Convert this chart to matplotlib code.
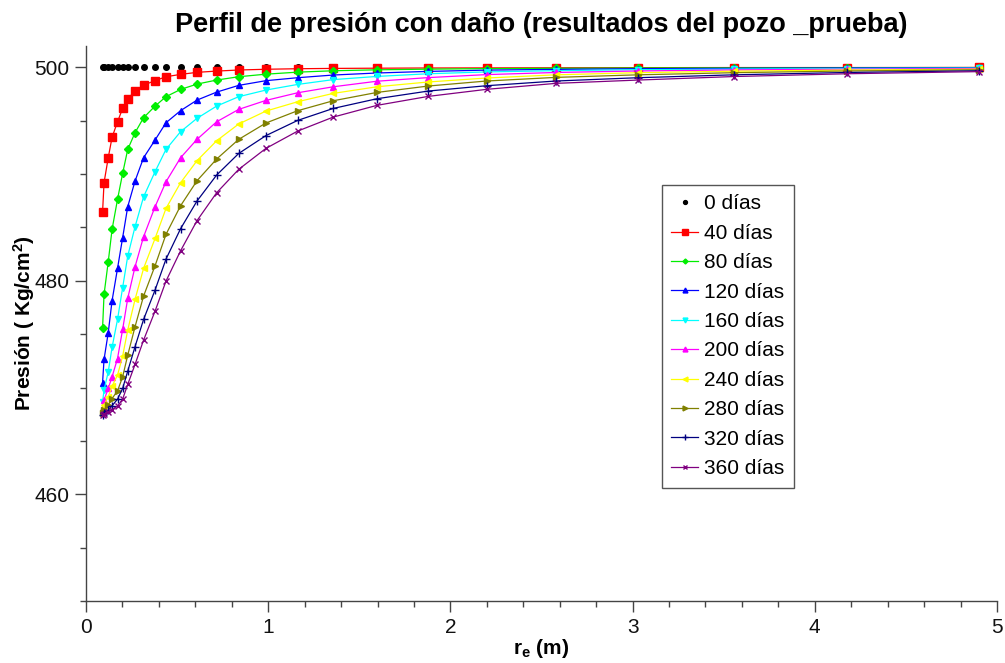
import matplotlib
matplotlib.use("Agg")
import matplotlib.pyplot as plt
from matplotlib.ticker import MultipleLocator

plt.rcParams["font.family"] = ["Liberation Sans", "DejaVu Sans"]
plt.rcParams["mathtext.fontset"] = "custom"
plt.rcParams["mathtext.rm"] = "Liberation Sans"
plt.rcParams["mathtext.it"] = "Liberation Sans:italic"
plt.rcParams["mathtext.bf"] = "Liberation Sans:bold"

# Radial distance from the well (m)
radius = [0.091, 0.099, 0.122, 0.143, 0.173, 0.201, 0.229, 0.269, 0.316, 0.379,
          0.439, 0.519, 0.609, 0.717, 0.838, 0.987, 1.162, 1.357, 1.597, 1.879,
          2.199, 2.580, 3.031, 3.558, 4.179, 4.901]

# Pressure (Kg/cm2) for each elapsed time
p_0 = [500.0] * 26
p_40 = [486.47, 489.19, 491.53, 493.44, 494.90, 496.15, 497.00, 497.81, 498.34, 498.75,
        499.12, 499.34, 499.53, 499.65, 499.75, 499.82, 499.87, 499.90, 499.92, 499.94,
        499.95, 499.96, 499.97, 499.98, 499.98, 499.99]
p_80 = [475.60, 478.72, 481.78, 484.81, 487.63, 490.06, 492.31, 493.87, 495.28, 496.37,
        497.25, 497.93, 498.43, 498.81, 499.12, 499.36, 499.55, 499.68, 499.77, 499.83,
        499.88, 499.91, 499.94, 499.95, 499.97, 499.98]
p_120 = [470.47, 472.63, 475.13, 478.13, 481.16, 484.03, 486.94, 489.34, 491.53, 493.19,
         494.81, 495.94, 496.93, 497.68, 498.31, 498.75, 499.03, 499.28, 499.47, 499.62,
         499.74, 499.81, 499.87, 499.91, 499.94, 499.96]
p_160 = [468.66, 469.76, 471.47, 473.76, 476.38, 479.35, 482.31, 485.06, 487.87, 490.22,
         492.31, 493.97, 495.22, 496.37, 497.25, 497.87, 498.40, 498.85, 499.15, 499.40,
         499.57, 499.69, 499.78, 499.84, 499.89, 499.93]
p_200 = [468.04, 468.82, 469.91, 471.00, 472.72, 475.44, 478.35, 481.31, 484.13, 486.94,
         489.28, 491.53, 493.25, 494.90, 496.06, 496.90, 497.62, 498.18, 498.70, 499.04,
         499.32, 499.52, 499.66, 499.76, 499.83, 499.89]
p_240 = [467.82, 468.35, 469.13, 470.13, 471.16, 472.94, 475.38, 478.25, 481.16, 483.97,
         486.78, 489.19, 491.25, 493.12, 494.69, 495.90, 496.78, 497.56, 498.18, 498.63,
         499.00, 499.30, 499.50, 499.64, 499.75, 499.83]
p_280 = [467.57, 467.88, 468.35, 468.97, 469.69, 471.00, 473.03, 475.69, 478.57, 481.41,
         484.35, 487.03, 489.37, 491.41, 493.25, 494.78, 495.94, 496.87, 497.65, 498.25,
         498.72, 499.06, 499.30, 499.50, 499.66, 499.77]
p_320 = [467.47, 467.63, 467.88, 468.29, 468.91, 469.91, 471.54, 473.82, 476.38, 479.13,
         482.03, 484.88, 487.47, 489.91, 491.93, 493.60, 495.03, 496.15, 497.06, 497.78,
         498.28, 498.72, 499.03, 499.30, 499.52, 499.68]
p_360 = [467.41, 467.50, 467.73, 467.94, 468.26, 468.91, 470.29, 472.16, 474.44, 477.16,
         479.97, 482.81, 485.63, 488.25, 490.44, 492.40, 494.03, 495.34, 496.44, 497.28,
         497.94, 498.50, 498.81, 499.14, 499.40, 499.60]

labels = ["0 días", "40 días", "80 días", "120 días", "160 días",
          "200 días", "240 días", "280 días", "320 días", "360 días"]
series = [p_0, p_40, p_80, p_120, p_160, p_200, p_240, p_280, p_320, p_360]

styles = [
    dict(color="#000000", marker="o", ms=4.0, ls="none"),
    dict(color="#ff0000", marker="s", ms=5.5),
    dict(color="#00ee00", marker="D", ms=3.6),
    dict(color="#0000ff", marker="^", ms=5.0),
    dict(color="#00ffff", marker="v", ms=5.0),
    dict(color="#ff00ff", marker="^", ms=5.0),
    dict(color="#ffff00", marker="<", ms=5.0),
    dict(color="#808000", marker=">", ms=5.0),
    dict(color="#000080", marker="+", ms=6.0, mew=1.0),
    dict(color="#800080", marker="x", ms=5.0, mew=1.0),
]

fig = plt.figure(figsize=(10.05, 6.63), dpi=100)
ax = fig.add_axes([86 / 1005, 1 - 601 / 663, (997 - 86) / 1005, (601 - 46) / 663])

for y, lab, st in zip(series, labels, styles):
    st = dict(st)
    ls = st.pop("ls", "-")
    ax.plot(radius, y, ls=ls, lw=0.9, label=lab, clip_on=False, **st)

ax.set_xlim(0, 5)
ax.set_ylim(450, 502)
ax.xaxis.set_major_locator(MultipleLocator(1))
ax.xaxis.set_minor_locator(MultipleLocator(0.2))
ax.yaxis.set_major_locator(MultipleLocator(20))
ax.yaxis.set_minor_locator(MultipleLocator(5))

for side in ("top", "right"):
    ax.spines[side].set_visible(False)
for side in ("left", "bottom"):
    ax.spines[side].set_color("#444444")
    ax.spines[side].set_linewidth(1.0)

ax.tick_params(which="major", length=8, width=1, color="#444444",
               labelsize=15, pad=4, labelcolor="#111111")
ax.tick_params(which="minor", length=4, width=1, color="#444444")

ax.set_title("Perfil de presión con daño (resultados del pozo _prueba)",
             fontsize=19.5, fontweight="bold", pad=10)
ax.set_xlabel("r$_\\mathbf{e}$ (m)", fontsize=15, fontweight="bold", labelpad=0)
ax.set_ylabel("Presión ( Kg/cm$^\\mathbf{2}$)", fontsize=15, fontweight="bold")
ax.yaxis.set_label_coords(-0.054, 0.5)

leg = ax.legend(loc="upper left", bbox_to_anchor=(0.632, 0.7495),
                borderaxespad=0, fancybox=False, framealpha=1,
                edgecolor="#555555", prop={"size": 15},
                handlelength=1.3, handletextpad=0.3, labelspacing=0.5,
                borderpad=0.45, markerscale=0.7, numpoints=1)
leg.get_frame().set_linewidth(1.0)

fig.savefig("out.png", dpi=100)
